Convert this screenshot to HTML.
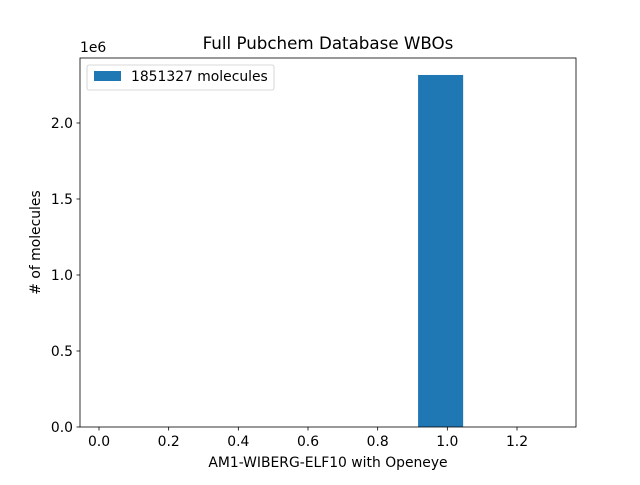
<!DOCTYPE html>
<html><head><meta charset="utf-8"><style>
body{margin:0;background:#fff;}
svg text{font-family:"DejaVu Sans","Liberation Sans",sans-serif;fill:#000;}
</style></head><body>
<svg id="chart" width="640" height="480">
<rect width="640" height="480" fill="#fff"/>
<g id="bars"></g>
<rect x="80" y="58" width="496" height="369" fill="none" stroke="#000" stroke-width="0.8"/>
<g id="xticks"></g>
<g id="yticks"></g>
<text x="80" y="52" font-size="13.9">1e6</text>
<text x="328" y="49" font-size="16.7" text-anchor="middle">Full Pubchem Database WBOs</text>
<text x="328" y="467" font-size="13.9" text-anchor="middle">AM1-WIBERG-ELF10 with Openeye</text>
<text transform="translate(40,242.5) rotate(-90)" font-size="13.9" text-anchor="middle"># of molecules</text>
<g>
<rect x="87" y="65" width="187" height="25" rx="2" fill="#fff" stroke="#ccc" stroke-width="0.8"/>
<rect x="94" y="71" width="27" height="10" fill="#1f77b4"/>
<text x="131" y="81" font-size="13.9">1851327 molecules</text>
</g>
</svg>
<script>
const binEdges=[0.0102,0.1396,0.269,0.3984,0.5278,0.6572,0.7866,0.916,1.0454,1.1748,1.3042];
const counts=[0,0,0,0,0,0,0,2316000,0,0];
const xTicks=[0,0.2,0.4,0.6,0.8,1.0,1.2];
const xTickLabels=["0.0","0.2","0.4","0.6","0.8","1.0","1.2"];
const yTicks=[0,0.5e6,1e6,1.5e6,2e6];
const yTickLabels=["0.0","0.5","1.0","1.5","2.0"];
const NS="http://www.w3.org/2000/svg";
const x=v=>99+(v-0)*(517-99)/1.2;
const y=v=>427-v*304/2e6;
const bars=document.getElementById('bars');
counts.forEach((c,i)=>{
 const r=document.createElementNS(NS,'rect');
 
 
 r.setAttribute('x',x(binEdges[i]));r.setAttribute('width',x(binEdges[i+1])-x(binEdges[i]));
 r.setAttribute('y',y(c));r.setAttribute('height',427-y(c));r.setAttribute('fill','#1f77b4');
 bars.appendChild(r);
});
const xt=document.getElementById('xticks');
xTicks.forEach((t,i)=>{
 const l=document.createElementNS(NS,'line');
 
 
 l.setAttribute('x1',x(t));l.setAttribute('x2',x(t));l.setAttribute('y1',427);l.setAttribute('y2',430.5);l.setAttribute('stroke','#000');l.setAttribute('stroke-width','0.8');
 xt.appendChild(l);
 const s=document.createElementNS(NS,'text');
 
 
 s.setAttribute('x',x(t));s.setAttribute('y',446);s.setAttribute('font-size','13.9');s.setAttribute('text-anchor','middle');
 s.textContent=xTickLabels[i];xt.appendChild(s);
});
const yt=document.getElementById('yticks');
yTicks.forEach((t,i)=>{
 const l=document.createElementNS(NS,'line');
 
 
 l.setAttribute('x1',76.5);l.setAttribute('x2',80);l.setAttribute('y1',y(t));l.setAttribute('y2',y(t));l.setAttribute('stroke','#000');l.setAttribute('stroke-width','0.8');
 yt.appendChild(l);
 const s=document.createElementNS(NS,'text');
 
 
 s.setAttribute('x',73);s.setAttribute('y',y(t)+5);s.setAttribute('font-size','13.9');s.setAttribute('text-anchor','end');
 s.textContent=yTickLabels[i];yt.appendChild(s);
});
</script>
</body></html>
